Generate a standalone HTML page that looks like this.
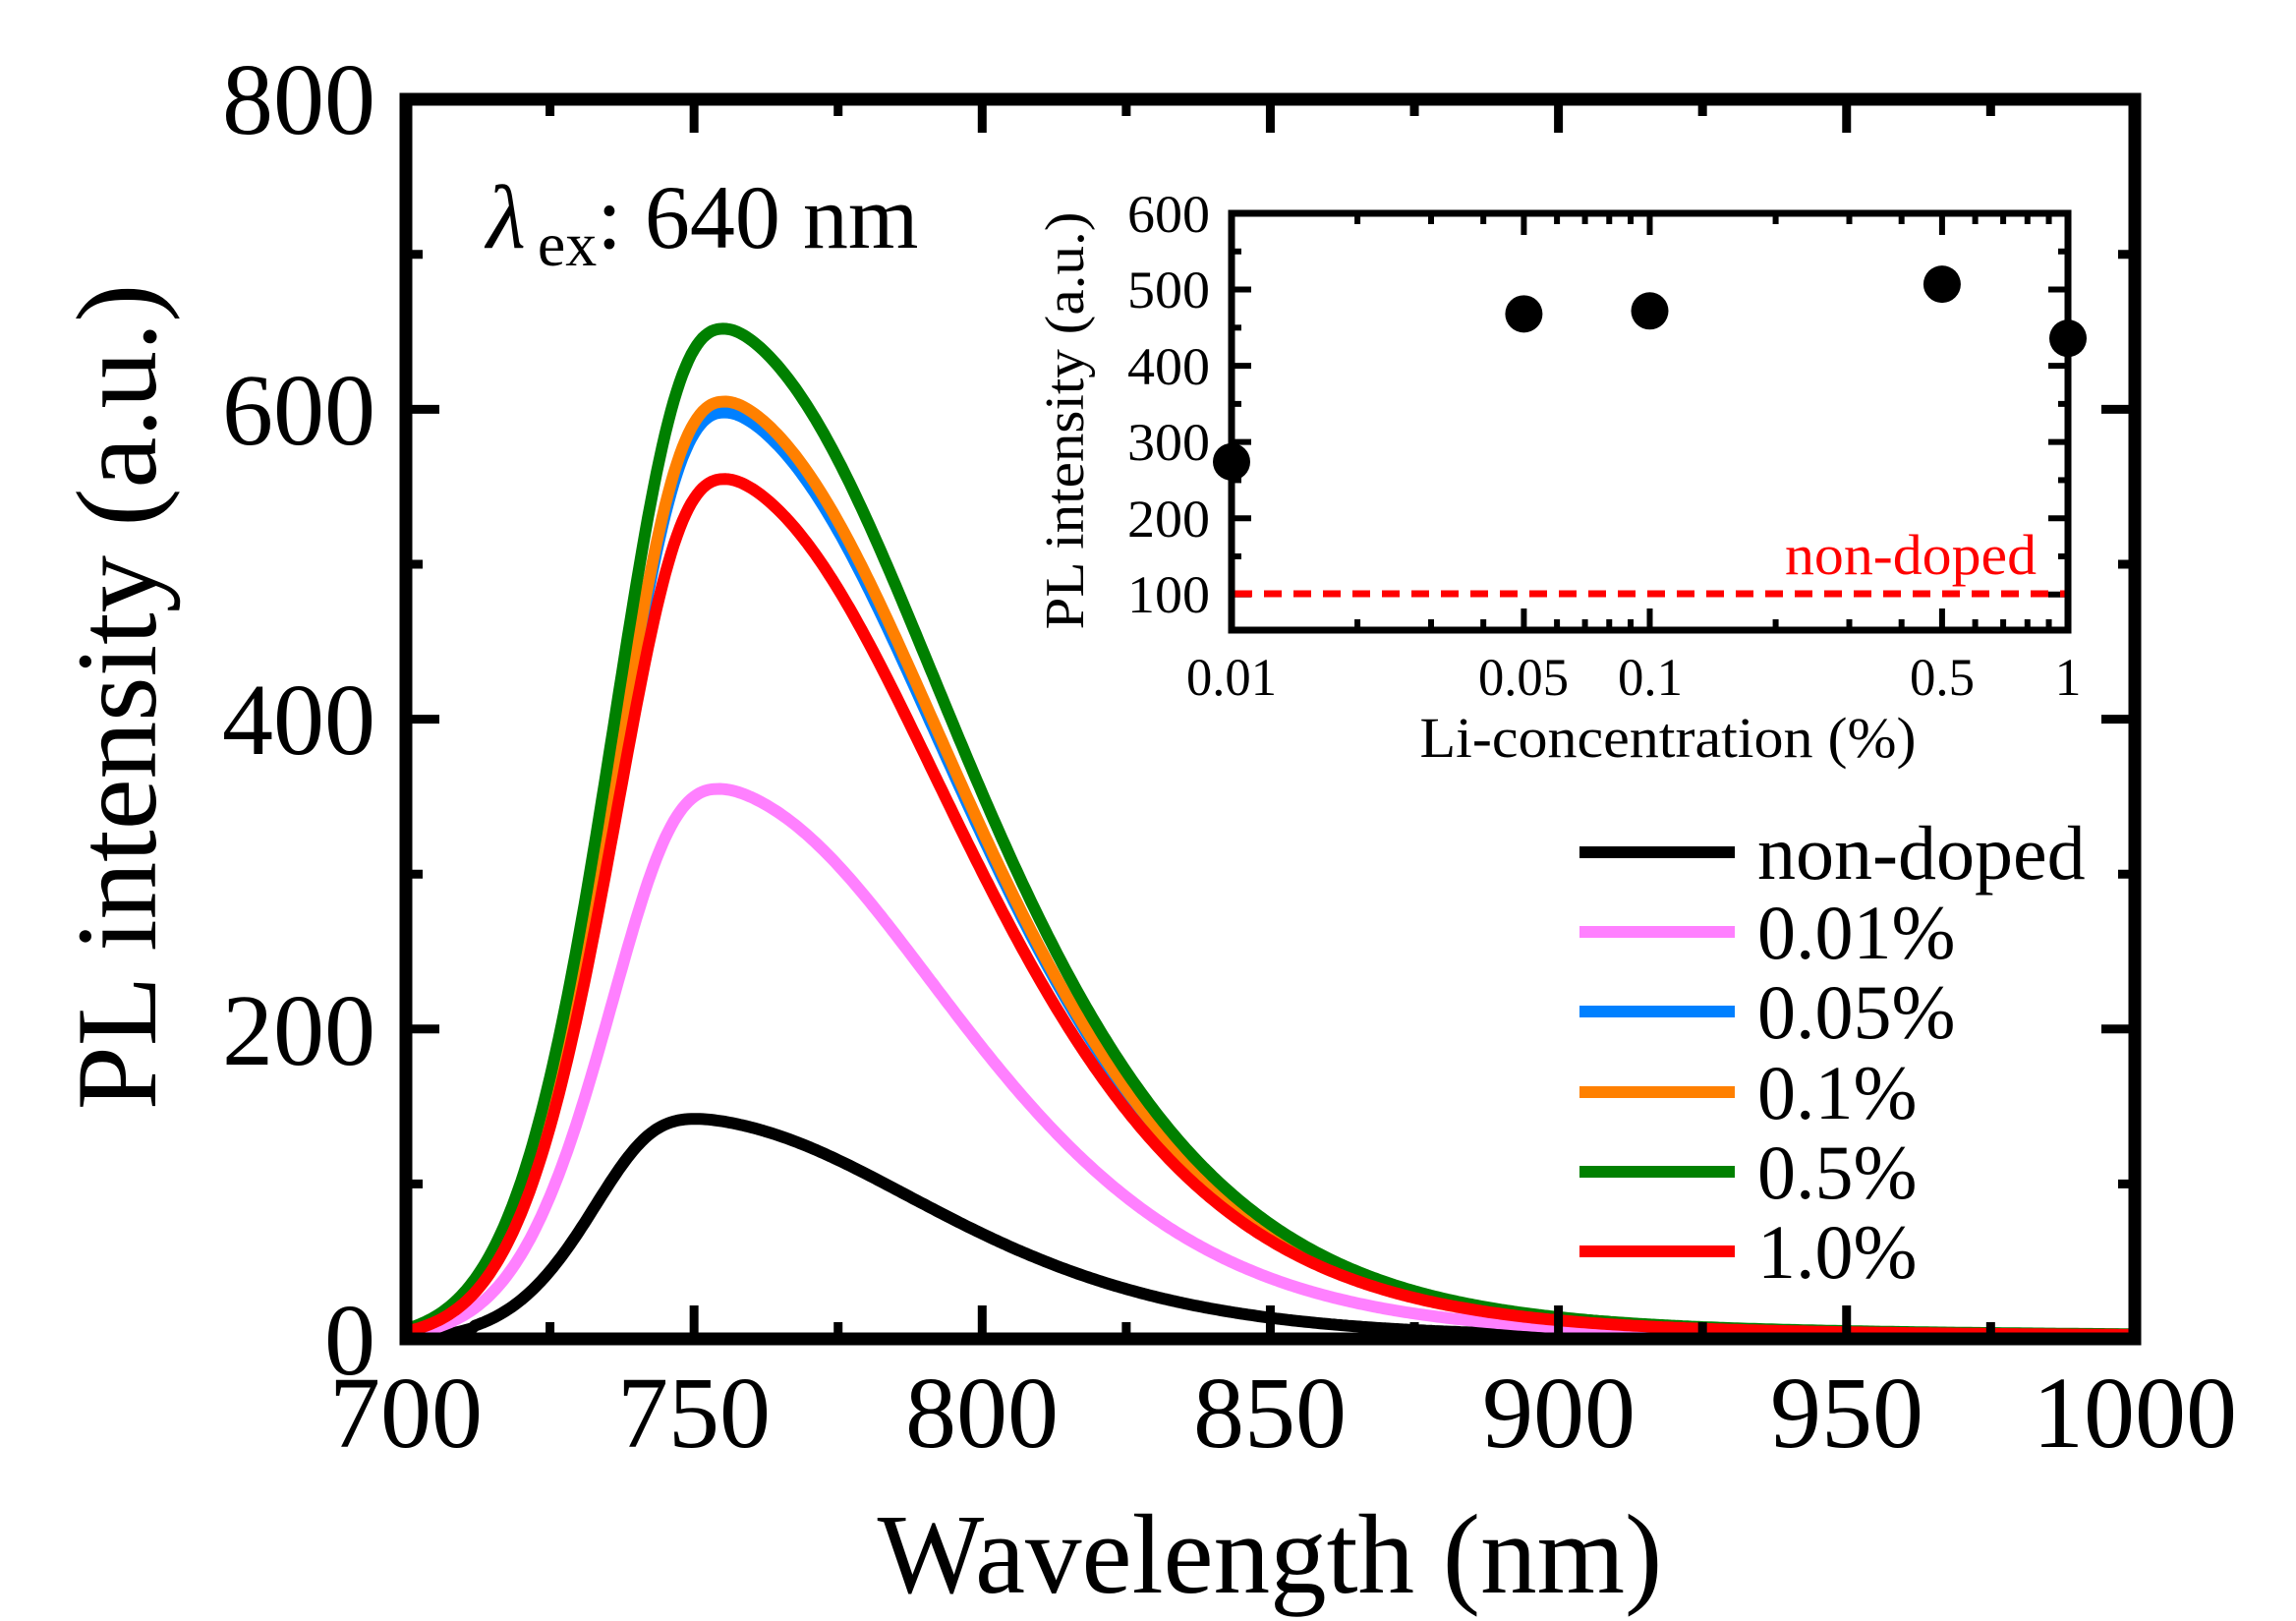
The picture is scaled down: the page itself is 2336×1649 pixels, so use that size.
<!DOCTYPE html>
<html><head><meta charset="utf-8">
<style>html,body{margin:0;padding:0;background:#fff;}svg{display:block;}</style>
</head><body>
<svg id="s" width="2336" height="1649" viewBox="0 0 2336 1649" xmlns="http://www.w3.org/2000/svg" font-family="'Liberation Serif', serif">
<rect width="2336" height="1649" fill="#fff"/>
<g id="curves" fill="none" stroke-width="12" stroke-linejoin="round"></g>
<g id="ticks" stroke="#000" stroke-width="9"></g>
<rect x="413" y="101" width="1759" height="1261" fill="none" stroke="#000" stroke-width="13"/>
<g font-size="104" fill="#000">
<text x="382" y="136" text-anchor="end">800</text>
<text x="382" y="452" text-anchor="end">600</text>
<text x="382" y="767" text-anchor="end">400</text>
<text x="382" y="1083" text-anchor="end">200</text>
<text x="382" y="1398" text-anchor="end">0</text>
<g text-anchor="middle">
<text x="413" y="1472">700</text><text x="706" y="1472">750</text><text x="999" y="1472">800</text>
<text x="1292" y="1472">850</text><text x="1586" y="1472">900</text><text x="1879" y="1472">950</text><text x="2172" y="1472">1000</text>
</g>
</g>
<text x="1292" y="1620" font-size="115" text-anchor="middle">Wavelength (nm)</text>
<text transform="translate(158,709) rotate(-90)" font-size="117" text-anchor="middle">PL intensity (a.u.)</text>
<text x="495" y="252" font-size="92"><tspan font-style="italic">λ</tspan><tspan font-size="64" dy="18" dx="12">ex</tspan><tspan dy="-18">: 640 nm</tspan></text>
<!-- legend -->
<g stroke-width="12">
<line x1="1607" x2="1765" y1="867" y2="867" stroke="#000"/>
<line x1="1607" x2="1765" y1="948" y2="948" stroke="#ff80ff"/>
<line x1="1607" x2="1765" y1="1029" y2="1029" stroke="#0080ff"/>
<line x1="1607" x2="1765" y1="1111" y2="1111" stroke="#ff8000"/>
<line x1="1607" x2="1765" y1="1192" y2="1192" stroke="#008000"/>
<line x1="1607" x2="1765" y1="1273" y2="1273" stroke="#ff0000"/>
</g>
<g font-size="78" fill="#000">
<text x="1788" y="894">non-doped</text><text x="1788" y="975">0.01%</text><text x="1788" y="1056">0.05%</text>
<text x="1788" y="1138">0.1%</text><text x="1788" y="1219">0.5%</text><text x="1788" y="1300">1.0%</text>
</g>
<!-- inset -->
<g id="iticks" stroke="#000" stroke-width="6"></g>
<line x1="1256" x2="2101" y1="604" y2="604" stroke="#ff0000" stroke-width="7" stroke-dasharray="18,12"/>
<rect x="1253" y="217" width="851" height="424" fill="none" stroke="#000" stroke-width="7"/>
<g id="dots" fill="#000"></g>
<g font-size="54" fill="#000" text-anchor="end">
<text x="1231" y="236" textLength="84" lengthAdjust="spacingAndGlyphs">600</text>
<text x="1231" y="313" textLength="84" lengthAdjust="spacingAndGlyphs">500</text>
<text x="1231" y="391" textLength="84" lengthAdjust="spacingAndGlyphs">400</text>
<text x="1231" y="468" textLength="84" lengthAdjust="spacingAndGlyphs">300</text>
<text x="1231" y="546" textLength="84" lengthAdjust="spacingAndGlyphs">200</text>
<text x="1231" y="623" textLength="84" lengthAdjust="spacingAndGlyphs">100</text>
</g>
<g font-size="54" fill="#000" text-anchor="middle">
<text x="1253" y="707" textLength="92" lengthAdjust="spacingAndGlyphs">0.01</text>
<text x="1550" y="707" textLength="92" lengthAdjust="spacingAndGlyphs">0.05</text>
<text x="1679" y="707" textLength="66" lengthAdjust="spacingAndGlyphs">0.1</text>
<text x="1976" y="707" textLength="66" lengthAdjust="spacingAndGlyphs">0.5</text>
<text x="2104" y="707">1</text>
</g>
<text x="1697" y="770" font-size="58" text-anchor="middle" textLength="505" lengthAdjust="spacingAndGlyphs">Li-concentration (%)</text>
<text transform="translate(1102,428) rotate(-90)" font-size="56" text-anchor="middle" textLength="425" lengthAdjust="spacingAndGlyphs">PL intensity (a.u.)</text>
<text x="2072" y="584" font-size="58" fill="#ff0000" text-anchor="end" textLength="256" lengthAdjust="spacingAndGlyphs">non-doped</text>
</svg>
<script>
var NS="http://www.w3.org/2000/svg";
function X(w){return 413+(w-700)*5.863;}
function Y(v){return 1362-v*1.576;}
function el(p,t,a){var e=document.createElementNS(NS,t);for(var k in a)e.setAttribute(k,a[k]);p.appendChild(e);return e;}
function shape(w,p,sl){var d=w-p;var sg=1/(1+Math.exp(-d/6));var sr=36+0.09*Math.max(d,0);var s=sl+(sr-sl)*sg;
 var g=Math.exp(-d*d/(2*s*s));if(d<=0)return g;
 return g+0.03*Math.exp(-d/130)*(1-Math.exp(-d/60));}
var series=[["#000",142,750,16],["#ff80ff",355,754,17.5],["#0080ff",598,755,17.8],["#ff8000",605,755,17.8],["#008000",652,754.8,18],["#ff0000",555,755,17.8]];
var cg=document.getElementById("curves");
series.forEach(function(s){var pts=[];var mx=0;for(var w=700;w<=1000;w+=0.5)mx=Math.max(mx,shape(w,s[2],s[3]));
 for(var w=700;w<=1000;w+=0.5){var v=s[1]*shape(w,s[2],s[3])/mx;
 if(s[0]=="#000"&&w<712)v=Math.max(0,v-1);pts.push(X(w).toFixed(1)+","+Y(v).toFixed(1));}
 el(cg,"polyline",{points:pts.join(" "),stroke:s[0]});});
var tg=document.getElementById("ticks");
for(var w=700;w<=1000;w+=25){var L=(w%50==0)?34:17,x=X(w);
 el(tg,"line",{x1:x,x2:x,y1:1362,y2:1362-L});el(tg,"line",{x1:x,x2:x,y1:101,y2:101+L});}
for(var v=0;v<=800;v+=100){var L=(v%200==0)?34:17,y=Y(v);
 el(tg,"line",{x1:413,x2:413+L,y1:y,y2:y});el(tg,"line",{x1:2172,x2:2172-L,y1:y,y2:y});}
function IX(c){return 1253+Math.log10(c/0.01)*425.5;}
function IY(v){return 217+(600-v)*0.7755;}
var ig=document.getElementById("iticks");
[0.01,0.02,0.03,0.04,0.05,0.06,0.07,0.08,0.09,0.1,0.2,0.3,0.4,0.5,0.6,0.7,0.8,0.9,1].forEach(function(c){
 var maj=[0.01,0.05,0.1,0.5,1].indexOf(c)>=0;var L=maj?22:11,x=IX(c);
 el(ig,"line",{x1:x,x2:x,y1:641,y2:641-L});el(ig,"line",{x1:x,x2:x,y1:217,y2:217+L});});
for(var v=100;v<=600;v+=50){var L=(v%100==0)?20:10,y=IY(v);
 el(ig,"line",{x1:1253,x2:1253+L,y1:y,y2:y});el(ig,"line",{x1:2104,x2:2104-L,y1:y,y2:y});}
var dg=document.getElementById("dots");
[[0.01,274],[0.05,468],[0.1,472],[0.5,507],[1,436]].forEach(function(p){el(dg,"circle",{cx:IX(p[0]),cy:IY(p[1]),r:19});});
</script>
</body></html>
